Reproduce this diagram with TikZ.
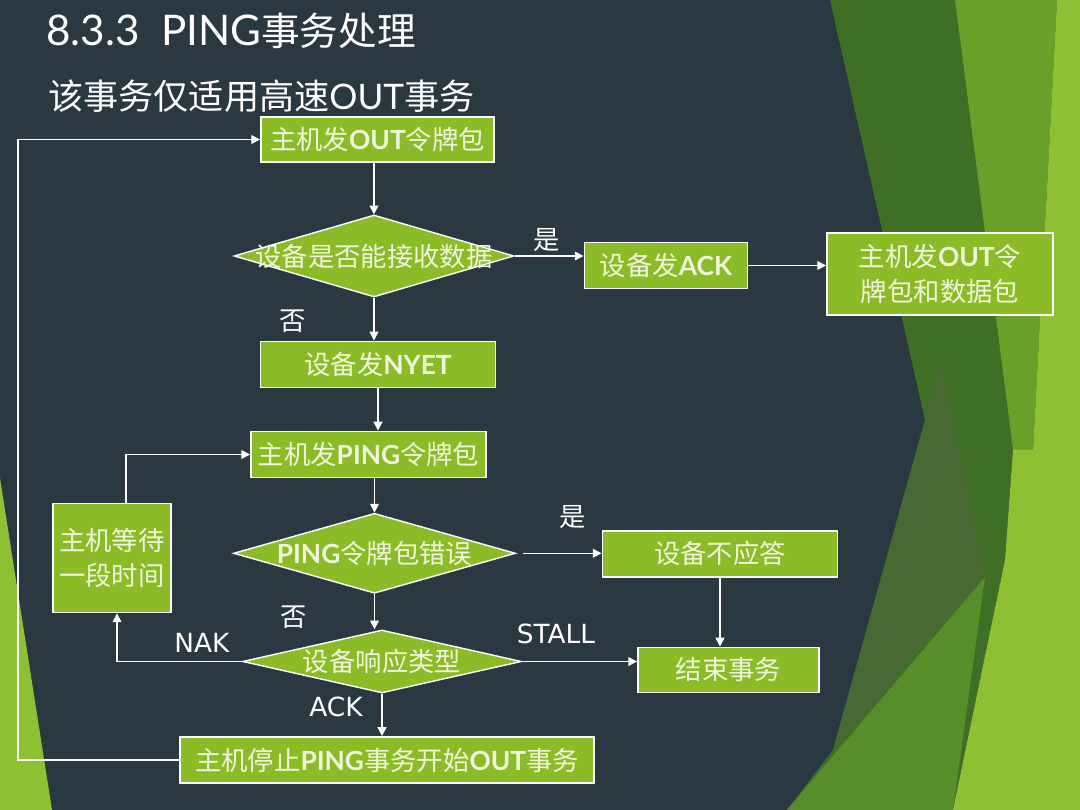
\documentclass[tikz,border=0pt]{standalone}
\usepackage{fontspec}
\setmainfont{Noto Sans CJK SC}
\newfontfamily\latfont{Lato}
\newfontfamily\lblfont{DejaVu Sans}
\usepackage{xcolor}
\usepackage{tikz}
\usetikzlibrary{arrows.meta,shapes.geometric}
\definecolor{slidebg}{RGB}{42,56,66}
\definecolor{boxgreen}{RGB}{140,187,40}
\definecolor{txtlight}{RGB}{240,246,220}
\definecolor{leafdark}{RGB}{63,110,37}
\definecolor{leafmid}{RGB}{106,160,42}
\definecolor{leaflight}{RGB}{142,192,52}
\definecolor{leafolive}{RGB}{72,104,52}
\definecolor{leafbright}{RGB}{86,143,42}
\newcommand{\enb}[1]{{\latfont\bfseries #1}}

\begin{document}
\begin{tikzpicture}[x=0.02cm,y=-0.02cm,
    box/.style={draw=white,line width=1.1pt,fill=boxgreen,text=txtlight,
      inner sep=0pt,align=center,font=\fontsize{15}{19.5}\selectfont},
    decision/.style={diamond,draw=white,line width=0.8pt,fill=boxgreen,inner sep=0pt},
    dtext/.style={text=txtlight,inner sep=0pt,font=\fontsize{15}{19.5}\selectfont},
    arr/.style={draw=white,line width=0.85pt,-{Triangle[length=5pt,width=5pt]}},
    lbl/.style={text=white,inner sep=0pt,font=\fontsize{15}{18}\selectfont}]
        \useasboundingbox (0,0) rectangle (1080,810);
        \fill[slidebg] (0,0) rectangle (1080,810);
        % leaves
        \fill[leaflight] (0,478) -- (52,810) -- (0,810) -- cycle;
        \fill[leafdark] (830,0) -- (955,0) -- (1013,450) -- (1005,560) -- (953,810)
          -- (787,810) -- (833,750) -- (925,420) -- cycle;
        \fill[leafolive] (925,420) -- (940,360) -- (985,577) -- (833,750) -- cycle;
        \fill[leafmid] (955,0) -- (1057,0) -- (1033,450) -- (1013,450) -- cycle;
        \fill[leaflight] (1057,0) -- (1080,0) -- (1080,810) -- (953,810) -- (1005,560)
          -- (1013,450) -- (1033,450) -- cycle;
        \fill[leafbright] (787,810) -- (985,577) -- (953,810) -- cycle;

        \node[anchor=west,text=white,inner sep=0pt] (title) at (46,31)
          {\fontsize{22}{26}\selectfont{\latfont\fontsize{24}{26}\selectfont 8.3.3\ \ PING}事务处理};
        \node[anchor=west,text=white,inner sep=0pt] (sub) at (48,96)
          {\fontsize{20}{24}\selectfont 该事务仅适用高速{\latfont OUT}事务};

        \node[box,minimum width=4.66cm,minimum height=0.90cm] (b1) at (377.5,139.5) {主机发\enb{OUT}令牌包};
        \node[decision,minimum width=5.60cm,minimum height=1.64cm] (d1) at (374,256) {};
        \node[dtext] (d1t) at (d1) {设备是否能接收数据};
        \node[box,minimum width=3.26cm,minimum height=0.92cm] (b3) at (666,265.5) {设备发\enb{ACK}};
        \node[box,minimum width=4.52cm,minimum height=1.64cm] (b4) at (940,274) {主机发\enb{OUT}令\\牌包和数据包};
        \node[box,minimum width=4.70cm,minimum height=0.92cm] (b5) at (378,364.5) {设备发\enb{NYET}};
        \node[box,minimum width=4.70cm,minimum height=0.92cm] (b6) at (368.5,454.5) {主机发\enb{PING}令牌包};
        \node[decision,minimum width=5.64cm,minimum height=1.60cm] (d2) at (374.5,553.3) {};
        \node[dtext] (d2t) at (d2) {\enb{PING}令牌包错误};
        \node[box,minimum width=4.70cm,minimum height=0.92cm] (b8) at (720,553.7) {设备不应答};
        \node[box,minimum width=2.36cm,minimum height=2.18cm] (b9) at (112,558) {主机等待\\一段时间};
        \node[decision,minimum width=5.58cm,minimum height=1.26cm] (d3) at (382,661.5) {};
        \node[dtext] (d3t) at (d3) {设备响应类型};
        \node[box,minimum width=3.62cm,minimum height=0.90cm] (b11) at (728.5,670) {结束事务};
        \node[box,minimum width=8.28cm,minimum height=0.92cm] (b12) at (387,760) {主机停止\enb{PING}事务开始\enb{OUT}事务};

        \node[lbl] (yes1) at (547,240) {是};
        \node[lbl] (no1) at (293,321) {否};
        \node[lbl] (yes2) at (573,517) {是};
        \node[lbl] (no2) at (294,617) {否};
        \node[lbl,font=\lblfont\fontsize{15}{18}\selectfont] (nak) at (202,643) {NAK};
        \node[lbl,font=\lblfont\fontsize{15}{18}\selectfont] (stall) at (556,634) {STALL};
        \node[lbl,font=\lblfont\fontsize{15}{18}\selectfont] (ack) at (336,707) {ACK};

        \coordinate (lp) at (18,765);
        \draw[arr] (b1.south -| d1.north) -- (d1.north);
        \draw[arr] (d1.east) -- (d1.east -| b3.west);
        \draw[arr] (b3.east) -- (b3.east -| b4.west);
        \draw[arr] (d1.south) -- (d1.south |- b5.north);
        \draw[arr] (b5.south) -- (b5.south |- b6.north);
        \draw[arr] (b6.south -| d2.north) -- (d2.north);
        \draw[arr,shorten <=0.14cm] (d2.east) -- (d2.east -| b8.west);
        \draw[arr] (d2.south) -- (d2.south |- d3.north);
        \draw[arr] (b8.south) -- (b8.south |- b11.north);
        \draw[arr] (d3.east) -- (d3.east -| b11.west);
        \draw[arr] (d3.west) -| ([xshift=0.1cm]b9.south);
        \draw[arr] ([xshift=0.28cm]b9.north) |- (b6.west);
        \draw[arr] (d3.south) -- (d3.south |- b12.north);
        \draw[arr] (b12.west) -- (b12.west -| lp) |- (b1.west);
      \end{tikzpicture}
\end{document}
